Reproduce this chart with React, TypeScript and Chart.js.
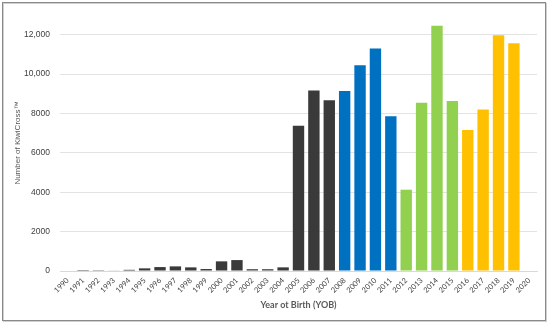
import React, { useEffect, useRef } from "react";
import { Chart, registerables } from "chart.js";

Chart.register(...registerables);

const years = [
  "1990", "1991", "1992", "1993", "1994", "1995", "1996", "1997", "1998", "1999",
  "2000", "2001", "2002", "2003", "2004", "2005", "2006", "2007", "2008", "2009",
  "2010", "2011", "2012", "2013", "2014", "2015", "2016", "2017", "2018", "2019", "2020",
];
const counts = [
  0, 3, 10, 30, 60, 135, 200, 235, 185, 100,
  490, 555, 90, 90, 185, 7380, 9170, 8670, 9150, 10450,
  11300, 7860, 4130, 8550, 12460, 8630, 7160, 8200, 11980, 11570, 25,
];
const yTickValues = [0, 2000, 4000, 6000, 8000, 10000, 12000];
const yTickLabels = ["0", "2000", "4000", "6000", "8000", "10,000", "12,000"];

const DARK = "#3a3a3a";
const BLUE = "#0070c0";
const GREEN = "#92d050";
const YELLOW = "#ffc000";

function colorFor(year: string) {
  const y = Number(year);
  if (y <= 2007) return DARK;
  if (y <= 2011) return BLUE;
  if (y <= 2015) return GREEN;
  return YELLOW;
}

const framePlugin = {
  id: "frame",
  beforeDraw(chart: any) {
    const ctx = chart.ctx;
    ctx.save();
    ctx.fillStyle = "#ffffff";
    ctx.fillRect(0, 0, chart.width, chart.height);
    ctx.strokeStyle = "#d0d0d0";
    ctx.lineWidth = 1;
    ctx.strokeRect(3.5, 3.5, 543, 318);
    ctx.strokeStyle = "#8a8a8a";
    ctx.strokeRect(2.5, 2.5, 543, 318);
    ctx.restore();
  },
};

export default function App() {
  const ref = useRef<HTMLCanvasElement>(null);
  useEffect(() => {
    document.body.style.margin = "0";
    const chart = new Chart(ref.current!, {
      type: "bar",
      data: {
        labels: years,
        datasets: [
          {
            data: counts,
            backgroundColor: years.map(colorFor),
            categoryPercentage: 1,
            barPercentage: 0.74,
          },
        ],
      },
      plugins: [framePlugin],
      options: {
        animation: false,
        responsive: false,
        devicePixelRatio: 1,
        layout: { padding: { left: 0, right: 13, top: 13.6, bottom: 0 } },
        plugins: { legend: { display: false }, tooltip: { enabled: false } },
        scales: {
          x: {
            grid: { display: false, drawTicks: false },
            border: { display: true, color: "#d9d9d9" },
            ticks: {
              autoSkip: false,
              minRotation: 45,
              maxRotation: 45,
              padding: 5,
              color: "#404040",
              font: { family: "Lato", size: 7.5 },
            },
            title: {
              display: true,
              text: "Year ot Birth (YOB)",
              color: "#595959",
              font: { family: "Lato", size: 9, weight: "bold" },
              padding: { top: 0, bottom: 14 },
            },
            afterFit(scale: any) {
              scale.height = 53;
            },
          },
          y: {
            min: 0,
            max: 13000,
            grid: { color: "#e3e3e3", drawTicks: false },
            border: { display: false },
            afterBuildTicks(scale: any) {
              scale.ticks = yTickValues.map((v) => ({ value: v }));
            },
            ticks: {
              padding: 10,
              color: "#404040",
              font: { family: "Liberation Sans", size: 8.5 },
              callback: (v: any) => {
                const i = yTickValues.indexOf(Number(v));
                return i >= 0 ? yTickLabels[i] : "";
              },
            },
            title: {
              display: true,
              text: "Number of KiwiCross\u2122",
              color: "#595959",
              font: { family: "Liberation Sans", size: 8 },
              padding: { top: 13, bottom: 0 },
            },
            afterFit(scale: any) {
              scale.width = 60;
            },
          },
        },
      },
    });
    return () => chart.destroy();
  }, []);
  return <canvas ref={ref} width={550} height={324} />;
}
